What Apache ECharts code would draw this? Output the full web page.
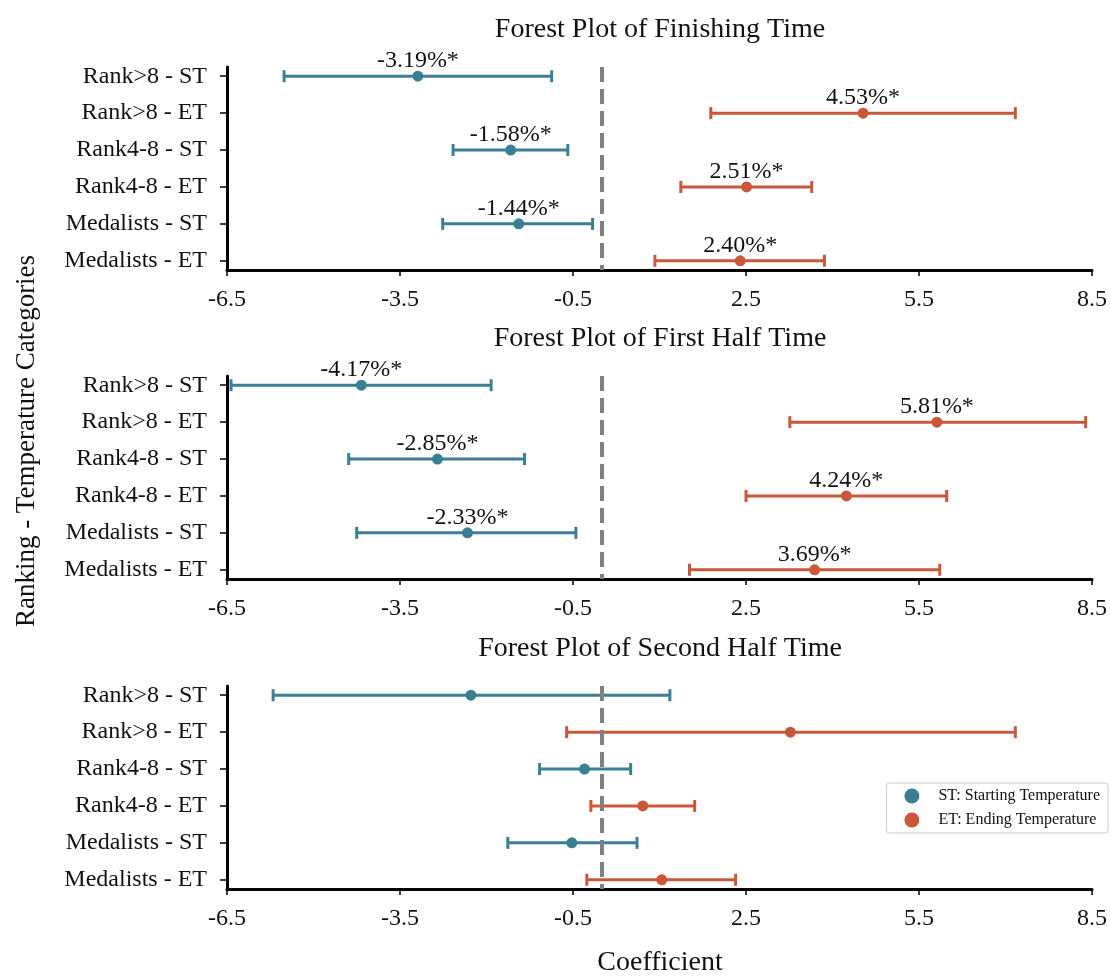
<!DOCTYPE html>
<html>
<head>
<meta charset="utf-8">
<script src="https://cdn.jsdelivr.net/npm/echarts@6/dist/echarts.min.js"></script>
<style>
  html, body { margin: 0; padding: 0; background: #fff; }
  #chart { width: 1110px; height: 976px; }
</style>
</head>
<body>
<div id="chart"></div>
<script>
// categories, top to bottom
const categories = ['Rank>8 - ST', 'Rank>8 - ET', 'Rank4-8 - ST', 'Rank4-8 - ET', 'Medalists - ST', 'Medalists - ET'];
const xTicks = [-6.5, -3.5, -0.5, 2.5, 5.5, 8.5];

// Finishing time
const finishCoef = [-3.19, 4.53, -1.58, 2.51, -1.44, 2.40];
const finishLow = [-5.51, 1.89, -2.58, 1.37, -2.76, 0.92];
const finishHigh = [-0.87, 7.17, -0.59, 3.64, -0.16, 3.86];

// First half time
const firstCoef = [-4.17, 5.81, -2.85, 4.24, -2.33, 3.69];
const firstLow = [-6.43, 3.26, -4.39, 2.50, -4.25, 1.52];
const firstHigh = [-1.92, 8.39, -1.34, 5.98, -0.45, 5.86];

// Second half time (no labels)
const secondCoef = [-2.27, 3.27, -0.30, 0.71, -0.52, 1.04];
const secondLow = [-5.70, -0.61, -1.08, -0.19, -1.63, -0.26];
const secondHigh = [1.18, 7.17, 0.50, 1.61, 0.61, 2.32];

const panels = [
  { title: 'Forest Plot of Finishing Time', coef: finishCoef, low: finishLow, high: finishHigh, labels: true },
  { title: 'Forest Plot of First Half Time', coef: firstCoef, low: firstLow, high: firstHigh, labels: true },
  { title: 'Forest Plot of Second Half Time', coef: secondCoef, low: secondLow, high: secondHigh, labels: false },
];

const ST_NAME = 'ST: Starting Temperature';
const ET_NAME = 'ET: Ending Temperature';
const stColor = '#3b7f93';
const etColor = '#c9573a';
const font = 'Liberation Serif';

const gridTops = [67, 376, 686];
const gridH = 203;

function renderBar(params, api) {
  const y = api.value(2);
  const p1 = api.coord([api.value(0), y]);
  const p2 = api.coord([api.value(1), y]);
  const c = 6;
  const style = { stroke: api.visual('color'), lineWidth: 3 };
  return {
    type: 'group',
    children: [
      { type: 'line', shape: { x1: p1[0], y1: p1[1], x2: p2[0], y2: p2[1] }, style: style },
      { type: 'line', shape: { x1: p1[0], y1: p1[1] - c, x2: p1[0], y2: p1[1] + c }, style: style },
      { type: 'line', shape: { x1: p2[0], y1: p2[1] - c, x2: p2[0], y2: p2[1] + c }, style: style },
    ],
  };
}

const grids = [], xAxes = [], yAxes = [], titles = [], series = [];

panels.forEach((p, i) => {
  grids.push({ left: 227, right: 17, top: gridTops[i], height: gridH });
  titles.push({
    text: p.title, left: 660, top: gridTops[i] - 51, textAlign: 'center', padding: 0,
    textStyle: { fontFamily: font, fontSize: 28, fontWeight: 'normal', color: '#111' },
  });
  xAxes.push({
    type: 'value', gridIndex: i, min: -6.5, max: 8.5, position: 'bottom',
    splitLine: { show: false },
    axisLine: { onZero: false, lineStyle: { color: '#000', width: 3 } },
    axisTick: { show: true, length: 6, lineStyle: { color: '#000', width: 1.5 }, customValues: xTicks },
    axisLabel: {
      customValues: xTicks, margin: 18, color: '#111', fontFamily: font, fontSize: 24,
      formatter: (v) => v.toFixed(1),
    },
  });
  yAxes.push({
    type: 'value', gridIndex: i, min: -0.25, max: 5.25, inverse: true,
    splitLine: { show: false },
    axisLine: { show: true, onZero: false, lineStyle: { color: '#000', width: 3 } },
    axisTick: { show: true, length: 7, lineStyle: { color: '#000', width: 1.5 }, customValues: [0, 1, 2, 3, 4, 5] },
    axisLabel: {
      customValues: [0, 1, 2, 3, 4, 5], margin: 20, color: '#111', fontFamily: font, fontSize: 24,
      formatter: (v) => categories[Math.round(v)],
    },
  });

  const stBars = [], etBars = [], stPts = [], etPts = [];
  categories.forEach((c, k) => {
    const bar = [p.low[k], p.high[k], k];
    const pt = { value: [p.coef[k], k], label: { formatter: p.coef[k].toFixed(2) + '%*' } };
    if (k % 2 === 0) { stBars.push(bar); stPts.push(pt); } else { etBars.push(bar); etPts.push(pt); }
  });

  [[stBars, stColor, 'ST bars'], [etBars, etColor, 'ET bars']].forEach(([d, col, nm]) => {
    series.push({
      type: 'custom', name: nm, xAxisIndex: i, yAxisIndex: i, renderItem: renderBar,
      itemStyle: { color: col }, encode: { x: [0, 1], y: 2 }, data: d, silent: true, z: 2,
    });
  });

  series.push({
    type: 'scatter', name: 'zero', xAxisIndex: i, yAxisIndex: i, data: [], silent: true, z: 3,
    markLine: {
      silent: true, symbol: 'none', label: { show: false },
      lineStyle: { color: '#808080', width: 4, type: [15, 7] },
      data: [{ xAxis: 0 }],
    },
  });

  [[stPts, stColor, ST_NAME], [etPts, etColor, ET_NAME]].forEach(([d, col, nm]) => {
    series.push({
      type: 'scatter', name: nm, xAxisIndex: i, yAxisIndex: i, data: d, symbolSize: 11, z: 4,
      itemStyle: { color: col, opacity: 1 },
      label: {
        show: p.labels, position: 'top', distance: -2, color: '#111', fontFamily: font, fontSize: 24,
      },
    });
  });
});

const chart = echarts.init(document.getElementById('chart'));
chart.setOption({
  animation: false,
  backgroundColor: '#fff',
  title: titles,
  grid: grids,
  xAxis: xAxes,
  yAxis: yAxes,
  legend: {
    data: [ST_NAME, ET_NAME], orient: 'vertical', right: 2, top: 783,
    icon: 'circle', itemWidth: 15, itemHeight: 15, itemGap: 8,
    padding: [5, 8, 5, 18], borderColor: '#cccccc', borderWidth: 1, borderRadius: 3,
    backgroundColor: '#fff',
    textStyle: { fontFamily: font, fontSize: 16, color: '#111', padding: [0, 0, 0, 14] },
  },
  graphic: [
    {
      type: 'text', x: 27, y: 441, rotation: Math.PI / 2,
      style: {
        text: 'Ranking - Temperature Categories', fontFamily: font, fontSize: 27,
        fill: '#111', align: 'center', verticalAlign: 'middle',
      },
    },
    {
      type: 'text', x: 660, y: 963,
      style: {
        text: 'Coefficient', fontFamily: font, fontSize: 28,
        fill: '#111', align: 'center', verticalAlign: 'middle',
      },
    },
  ],
  series: series,
});
</script>
</body>
</html>
